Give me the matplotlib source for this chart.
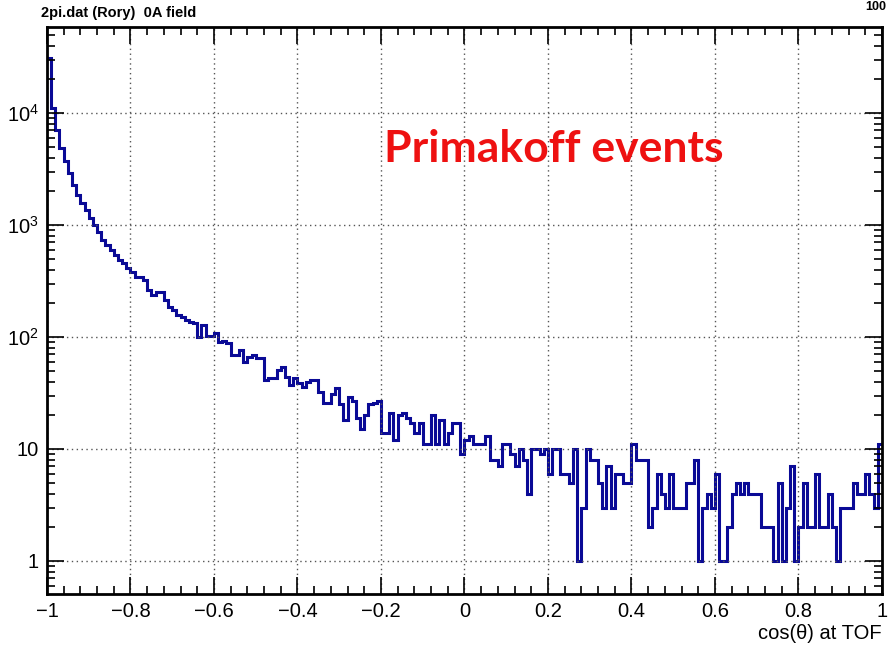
import numpy as np
import matplotlib
matplotlib.use("Agg")
import matplotlib.pyplot as plt
from matplotlib.ticker import FixedLocator, LogLocator, NullFormatter, MultipleLocator

plt.rcParams['font.family'] = 'Liberation Sans'
plt.rcParams['mathtext.fontset'] = 'custom'
plt.rcParams['mathtext.rm'] = 'Liberation Sans'
plt.rcParams['mathtext.it'] = 'Liberation Sans'

# histogram: 200 bins of cos(theta) from -1 to 1
x_lo, x_hi, n_bins = -1.0, 1.0, 200
counts_a = [31000, 11000, 7000, 4900, 3700, 2900, 2270, 1850, 1580, 1360,
            1150, 1000, 870, 740, 665, 600, 540, 485, 457, 415]
counts_b = [380, 345, 340, 324, 264, 237, 250, 250, 214, 186,
            173, 157, 150, 142, 136, 133, 100, 128, 102, 102,
            108, 90, 92, 88, 69, 69, 76, 60, 66, 69]
counts_c = [65, 65, 41, 43, 43, 51, 54, 44, 37, 43, 39,
            36, 40, 41, 41, 32, 26, 26, 31, 35, 25, 18]
counts_d = [29, 27, 19, 15, 20, 25, 26, 27, 14, 14,
            21, 12, 20, 21, 19, 17, 14, 17, 11, 11,
            20, 11, 18, 11, 14, 17, 17, 9]
counts_e = [12, 13, 11, 11, 11, 13, 8, 8, 7, 11,
            11, 9, 7, 10, 8, 4, 10, 10, 9, 10]
counts_f = [6, 10, 10, 6, 6, 5, 10, 1, 3, 10,
            8, 8, 5, 3, 7, 3, 6, 6, 5, 5]
counts_g = [11, 8, 8, 8, 2, 3, 6, 4, 3, 6,
            3, 3, 3, 5, 5, 8, 1, 3, 4, 3]
counts_h = [6, 1, 1, 2, 4, 5, 4, 5, 4, 4,
            4, 2, 2, 2, 1, 5, 1, 3, 7, 1]
counts_i = [2, 5, 2, 2, 6, 2, 2, 4, 2, 1,
            3, 3, 3, 5, 4, 4, 6, 4, 3, 11]
counts = np.array(counts_a + counts_b + counts_c + counts_d + counts_e
                  + counts_f + counts_g + counts_h + counts_i, dtype=float)
edges = np.linspace(x_lo, x_hi, n_bins + 1)

x_major = [-1, -0.8, -0.6, -0.4, -0.2, 0, 0.2, 0.4, 0.6, 0.8, 1]
x_labels = ['\u22121', '\u22120.8', '\u22120.6', '\u22120.4', '\u22120.2', '0',
            '0.2', '0.4', '0.6', '0.8', '1']
y_major = [1, 10, 100, 1000, 10000]
y_labels = ['1', '10', r'$10^{2}$', r'$10^{3}$', r'$10^{4}$']

fig = plt.figure(figsize=(8.88, 6.49), dpi=100)
ax = fig.add_axes([0.0529, 0.0847, 0.9403, 0.8737])

ax.stairs(counts, edges, baseline=None, color='#0a0a96', linewidth=2.2)

ax.set_yscale('log')
ax.set_xlim(x_lo, x_hi)
ax.set_ylim(0.507, 58600)

ax.xaxis.set_major_locator(FixedLocator(x_major))
ax.set_xticklabels(x_labels, fontsize=14.5)
ax.xaxis.set_minor_locator(MultipleLocator(0.04))
ax.yaxis.set_major_locator(FixedLocator(y_major))
ax.set_yticklabels(y_labels, fontsize=14.5)
ax.yaxis.set_minor_locator(LogLocator(base=10, subs=np.arange(2, 10)))
ax.yaxis.set_minor_formatter(NullFormatter())

ax.tick_params(which='both', direction='in', top=True, right=True, width=1.2)
ax.tick_params(which='major', length=12, pad=6)
ax.tick_params(which='minor', length=6)
for s in ax.spines.values():
    s.set_linewidth(2)

ax.grid(True, which='major', color='#555555', linestyle=(0, (1, 2.5)), linewidth=1)

ax.set_xlabel('cos(\u03b8) at TOF', fontsize=14.5, loc='right', labelpad=2)

fig.text(0.046, 0.980, '2pi.dat (Rory)  0A field', fontsize=10.5,
         fontweight='bold', va='center')
fig.text(0.998, 0.999, '100', fontsize=9, fontweight='bold', va='top', ha='right')

ax.text(0.404, 0.762, 'Primakoff events', transform=ax.transAxes,
        fontsize=32, fontweight='bold', color='#ee1111', family='Lato',
        va='baseline')

fig.savefig('out.png', dpi=100)
